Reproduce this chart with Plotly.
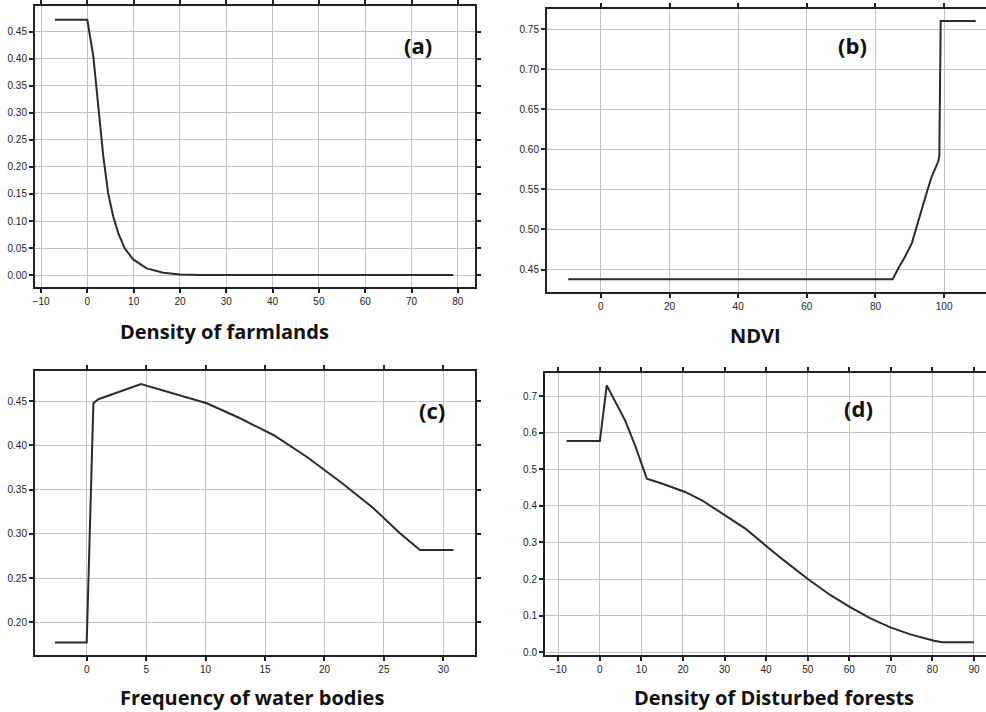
import plotly.graph_objects as go

# ---- data ----
farm_x = [-7.0, 0.0, 1.3, 2.4, 3.45, 4.5, 5.6, 6.7, 8.1, 9.9, 12.8, 16.4, 20.0, 24.3, 40.0, 60.0, 79.0]
farm_y = [0.472, 0.472, 0.404, 0.305, 0.219, 0.151, 0.108, 0.077, 0.049, 0.029, 0.0124, 0.0043, 0.0013, 0.0, 0.0, 0.0, 0.0]

ndvi_x = [-9.5, 85.0, 86.7, 88.6, 90.6, 92.0, 93.5, 95.0, 96.4, 98.3, 98.6, 99.0, 109.2]
ndvi_y = [0.438, 0.438, 0.452, 0.466, 0.483, 0.504, 0.5245, 0.547, 0.566, 0.585, 0.591, 0.760, 0.760]

water_x = [-2.67, 0.0, 0.56, 0.98, 4.57, 7.43, 10.1, 12.9, 15.7, 18.5, 21.3, 24.1, 26.35, 28.03, 30.84]
water_y = [0.177, 0.177, 0.4474, 0.452, 0.4692, 0.4579, 0.4474, 0.4305, 0.4116, 0.387, 0.359, 0.329, 0.3006, 0.2817, 0.2817]

forest_x = [-8.0, 0.0, 1.66, 6.07, 8.48, 11.3, 14.9, 20.5, 24.55, 30.17, 35.0, 39.8, 44.2, 50.2, 55.5, 60.3, 65.1, 69.9, 74.7, 80.4, 82.4, 90.0]
forest_y = [0.577, 0.577, 0.729, 0.6335, 0.565, 0.4745, 0.461, 0.438, 0.4153, 0.3744, 0.338, 0.2926, 0.2517, 0.199, 0.156, 0.1227, 0.0927, 0.068, 0.049, 0.0316, 0.0273, 0.0273]

titles = ["Density of farmlands", "NDVI", "Frequency of water bodies", "Density of Disturbed forests"]
tags = ["(a)", "(b)", "(c)", "(d)"]

W, H = 986, 712
def px(x): return x / W
def py(y): return 1 - y / H

fig = go.Figure()
line_style = dict(color="#2b2b2b", width=2)
series = [(farm_x, farm_y), (ndvi_x, ndvi_y), (water_x, water_y), (forest_x, forest_y)]
for i, (xs, ys) in enumerate(series):
    sfx = "" if i == 0 else str(i + 1)
    fig.add_trace(go.Scatter(x=xs, y=ys, mode="lines", line=line_style,
                             xaxis="x" + sfx, yaxis="y" + sfx, showlegend=False,
                             hoverinfo="x+y"))

grid = "#c2c2c2"
tickfont = dict(family="Liberation Sans, Arial, sans-serif", size=10, color="#222")

def ax(domain, rng, dtick, tick0, fmt, mirror, anchor):
    return dict(domain=domain, range=rng, dtick=dtick, tick0=tick0, tickformat=fmt,
                showgrid=True, gridcolor=grid, gridwidth=1, zeroline=False,
                showline=True, linecolor="#222", linewidth=2, mirror=mirror,
                ticks="outside", ticklen=4, tickwidth=1.5, tickcolor="#222",
                tickfont=tickfont, anchor=anchor, automargin=False)

fig.update_layout(
    width=W, height=H, margin=dict(l=0, r=0, t=0, b=0),
    paper_bgcolor="white", plot_bgcolor="white",
    # (a)
    xaxis=ax([px(35), px(475)], [-11.3, 83.7], 10, 0, "d", "ticks", "y"),
    yaxis=ax([py(287), py(6)], [-0.022, 0.4975], 0.05, 0, ".2f", "ticks", "x"),
    # (b)
    xaxis2=ax([px(547), 1.0], [-15.7, 112.2], 20, 0, "d", "ticks", "y2"),
    yaxis2=ax([py(292), py(9)], [0.422, 0.775], 0.05, 0.45, ".2f", False, "x2"),
    # (c)
    xaxis3=ax([px(35), px(475)], [-4.35, 32.66], 5, 0, "d", "ticks", "y3"),
    yaxis3=ax([py(655), py(371)], [0.163, 0.4839], 0.05, 0.2, ".2f", "ticks", "x3"),
    # (d)
    xaxis4=ax([px(545), 1.0], [-13.2, 92.9], 10, 0, "d", "ticks", "y4"),
    yaxis4=ax([py(655), py(373)], [-0.0074, 0.763], 0.1, 0, ".1f", False, "x4"),
)

title_font = dict(family="Open Sans, sans-serif", size=20, color="#111")
title_pos = [(224, 332), (755, 335), (252, 697), (774, 697)]
for t, (x, y) in zip(titles, title_pos):
    fig.add_annotation(text="<b>" + t + "</b>", x=px(x), y=py(y), xref="paper", yref="paper",
                       showarrow=False, font=title_font, xanchor="center", yanchor="middle")

tag_font = dict(family="Open Sans, sans-serif", size=22, color="#111")
tag_pos = [(418, 45), (852, 45), (432, 410), (858, 408)]
for t, (x, y) in zip(tags, tag_pos):
    fig.add_annotation(text="<b>" + t + "</b>", x=px(x), y=py(y), xref="paper", yref="paper",
                       showarrow=False, font=tag_font, xanchor="center", yanchor="middle")

fig.write_html("out.html", config={"displayModeBar": False},
               post_script="document.body.style.margin='0px';document.body.style.overflow='hidden';")
